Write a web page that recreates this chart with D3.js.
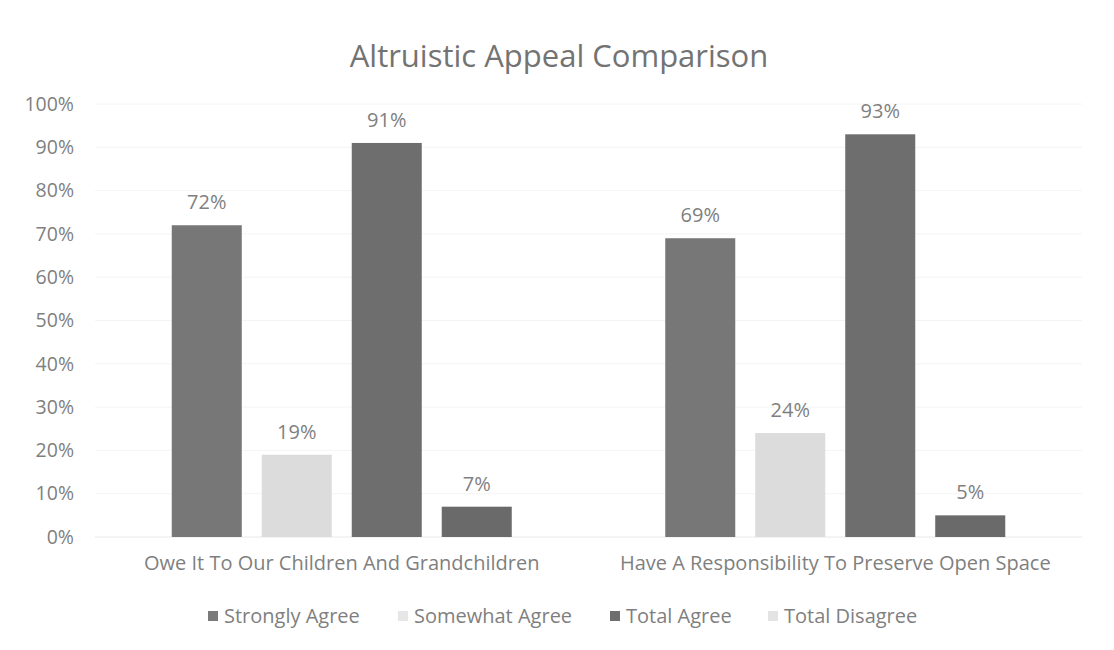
<!DOCTYPE html>
<html>
<head>
<meta charset="utf-8">
<script src="https://cdn.jsdelivr.net/npm/d3@7"></script>
<style>
  body { margin: 0; background: #fff; }
  text { font-family: "Open Sans", sans-serif; }
</style>
</head>
<body>
<div id="chart"></div>
<script>
// chart data
var categories = ['Owe It To Our Children And Grandchildren', 'Have A Responsibility To Preserve Open Space'];
var seriesNames = ['Strongly Agree', 'Somewhat Agree', 'Total Agree', 'Total Disagree'];
var stronglyAgree = [72, 69];
var somewhatAgree = [19, 24];
var totalAgree = [91, 93];
var totalDisagree = [7, 5];
var yTicks = [0, 10, 20, 30, 40, 50, 60, 70, 80, 90, 100];

var barColors = ['#777777', '#dcdcdc', '#6e6e6e', '#6a6a6a'];
var legendColors = ['#7a7a7a', '#e6e6e6', '#6e6e6e', '#e3e3e3'];
var textColor = '#7f7f7f';

var width = 1114, height = 650;

var svg = d3.select('#chart').append('svg')
    .attr('width', width)
    .attr('height', height);

// title
svg.append('text')
    .attr('x', 559)
    .attr('y', 67)
    .attr('text-anchor', 'middle')
    .style('font-size', '31px')
    .style('fill', '#737373')
    .text('Altruistic Appeal Comparison');

var y = d3.scaleLinear().domain([0, 100]).range([537, 104]);

var x0 = d3.scaleBand().domain(categories).range([95, 1082]);

var x1 = d3.scaleBand().domain(seriesNames).range([0, 340]).paddingInner(0.222);

// gridlines
svg.append('g')
    .selectAll('line')
    .data(yTicks)
    .enter().append('line')
    .attr('x1', 95)
    .attr('x2', 1082)
    .attr('y1', function (d) { return y(d); })
    .attr('y2', function (d) { return y(d); })
    .style('stroke', function (d) { return d == 0 ? '#e8e8e8' : '#f4f4f4'; })
    .style('stroke-width', 1);

// y axis
var yAxis = d3.axisLeft(y)
    .tickValues(yTicks)
    .tickSize(0)
    .tickPadding(0)
    .tickFormat(function (d) { return d + '%'; });

var yg = svg.append('g')
    .attr('transform', 'translate(74,0)')
    .call(yAxis);
yg.select('.domain').remove();
yg.selectAll('text')
    .style('font-size', '19.5px')
    .style('fill', textColor)
    .style('font-family', '"Open Sans", sans-serif');

// x axis labels
var xAxis = d3.axisBottom(x0).tickSize(0).tickPadding(0);
var xg = svg.append('g')
    .attr('transform', 'translate(0,556)')
    .call(xAxis);
xg.select('.domain').remove();
xg.selectAll('text')
    .style('font-size', '20px')
    .style('fill', textColor)
    .style('font-family', '"Open Sans", sans-serif');

// bars
var rows = categories.map(function (c, i) {
    return {
        cat: c,
        values: [stronglyAgree[i], somewhatAgree[i], totalAgree[i], totalDisagree[i]]
    };
});

var groupOffset = (x0.bandwidth() - 340) / 2;

var group = svg.selectAll('.group')
    .data(rows)
    .enter().append('g')
    .attr('class', 'group')
    .attr('transform', function (d) { return 'translate(' + (x0(d.cat) + groupOffset) + ',0)'; });

group.selectAll('rect')
    .data(function (d) { return d.values.map(function (v, j) { return { name: seriesNames[j], value: v, idx: j }; }); })
    .enter().append('rect')
    .attr('x', function (d) { return x1(d.name); })
    .attr('y', function (d) { return y(d.value); })
    .attr('width', x1.bandwidth())
    .attr('height', function (d) { return y(0) - y(d.value); })
    .style('fill', function (d) { return barColors[d.idx]; });

group.selectAll('.lbl')
    .data(function (d) { return d.values.map(function (v, j) { return { name: seriesNames[j], value: v }; }); })
    .enter().append('text')
    .attr('class', 'lbl')
    .attr('x', function (d) { return x1(d.name) + x1.bandwidth() / 2; })
    .attr('y', function (d) { return y(d.value) - 16; })
    .attr('text-anchor', 'middle')
    .style('font-size', '20px')
    .style('fill', textColor)
    .text(function (d) { return d.value + '%'; });

// legend
var legendX = [208, 398, 610, 768];
var legend = svg.selectAll('.legend')
    .data(seriesNames)
    .enter().append('g')
    .attr('class', 'legend')
    .attr('transform', function (d, i) { return 'translate(' + legendX[i] + ',616)'; });

legend.append('rect')
    .attr('x', 0)
    .attr('y', -5)
    .attr('width', 10)
    .attr('height', 10)
    .style('fill', function (d, i) { return legendColors[i]; });

legend.append('text')
    .attr('x', 16)
    .attr('y', 0)
    .attr('dy', '0.35em')
    .style('font-size', '20px')
    .style('fill', textColor)
    .text(function (d) { return d; });
</script>
</body>
</html>
